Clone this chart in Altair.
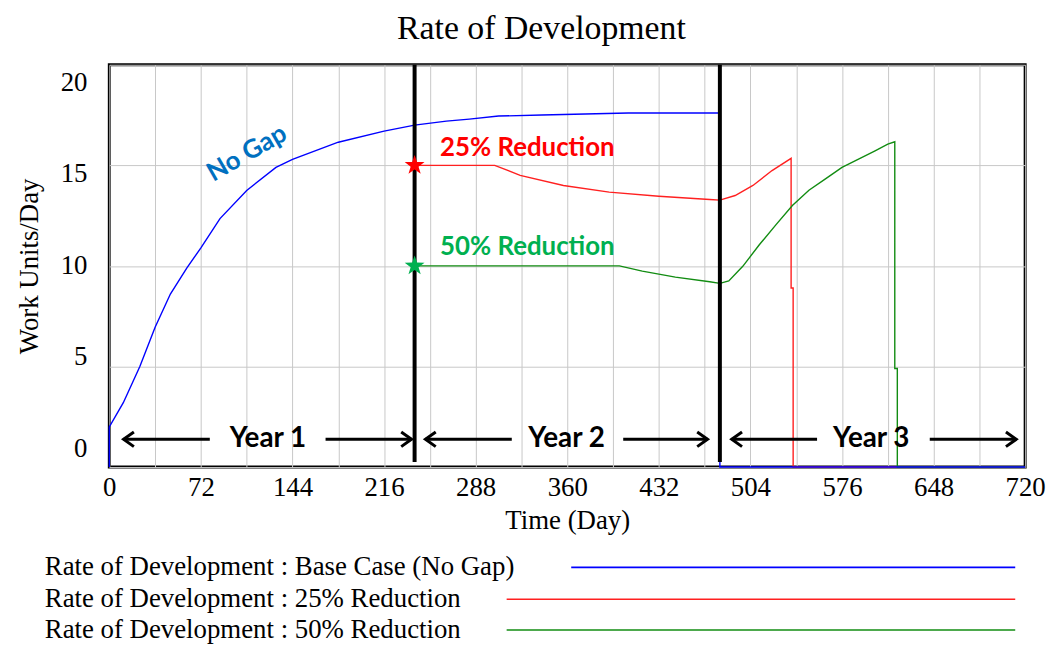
import altair as alt
import pandas as pd

SERIF = "Liberation Serif"
SANS = "Lato"

# ---- data ----
base_days = [0, 0, 11, 24, 36, 48, 61, 72, 87, 108, 131, 144, 180, 216, 240, 265, 283, 306, 340, 408, 480, 480, 720]
base_vals = [0, 2.0, 3.2, 5.0, 6.95, 8.6, 9.9, 10.9, 12.35, 13.75, 14.9, 15.3, 16.15, 16.7, 17.0, 17.2, 17.3, 17.45, 17.5, 17.6, 17.6, 0, 0]

r25_days = [240, 303, 323, 357, 393, 432, 472, 480, 492, 506, 521, 536, 536, 537.6, 537.6, 720]
r25_vals = [15, 15, 14.5, 14.0, 13.67, 13.46, 13.3, 13.27, 13.5, 14.0, 14.74, 15.35, 8.9, 8.9, 0, 0]

r50_days = [240, 401, 419, 445, 472, 480, 487, 498, 511, 524, 537, 550, 563, 576, 589, 602, 612, 617.5, 617.5, 619.5, 619.5, 720]
r50_vals = [10, 10, 9.74, 9.44, 9.21, 9.13, 9.25, 9.98, 11.05, 12.04, 13.0, 13.76, 14.33, 14.9, 15.31, 15.72, 16.05, 16.17, 4.9, 4.9, 0, 0]

star_days = [240, 240]
star_vals = [15, 10]
star_colors = ["#ff0000", "#00b050"]

year_bounds = [240, 480]
year_names = ["Year 1", "Year 2", "Year 3"]
year_centers = [124.7, 359.5, 599]
arrow_level = 1.38
arrow_from = [79, 170, 316.4, 404, 556.4, 645]
arrow_to = [11.2, 237.6, 248.5, 470.3, 489.3, 713]

x_ticks = list(range(0, 721, 36))
y_ticks = [0, 5, 10, 15, 20]

legend_labels = [
    "Rate of Development : Base Case (No Gap)",
    "Rate of Development : 25% Reduction",
    "Rate of Development : 50% Reduction",
]
colors = ["#0000ff", "#ff2020", "#128c12"]

STAR = ("M0,-1L0.235,-0.324L0.951,-0.309L0.380,0.124L0.588,0.809L0,0.4"
        "L-0.588,0.809L-0.380,0.124L-0.951,-0.309L-0.235,-0.324Z")


def series_df(days, vals):
    return pd.DataFrame({"day": days, "value": vals, "i": list(range(len(days)))})


x_scale = alt.Scale(domain=[0, 720], nice=False, zero=False)
y_scale = alt.Scale(domain=[0, 20], nice=False)

x_axis = alt.Axis(
    values=x_ticks, format="d",
    labelExpr="datum.value % 72 == 0 ? datum.label : ''",
    labelFlush=False, labelOverlap=False, labelBound=False,
    grid=True, gridColor="#c8c8c8", gridWidth=1, tickSize=0, domain=False,
    labelFont=SERIF, labelFontSize=27, labelColor="black", labelPadding=8,
    title="Time (Day)", titleFont=SERIF, titleFontSize=27, titleFontWeight="normal",
    titleColor="black", titlePadding=7,
)
y_axis = alt.Axis(
    values=y_ticks, labels=False,
    grid=True, gridColor="#c8c8c8", gridWidth=1, tickSize=0, domain=False,
    title="Work Units/Day", titleFont=SERIF, titleFontSize=27, titleFontWeight="normal",
    titleColor="black", titlePadding=66,
)

X = lambda: alt.X("day:Q", scale=x_scale, axis=x_axis)
Y = lambda: alt.Y("value:Q", scale=y_scale, axis=y_axis)

# y tick labels, spread slightly inward as in the reference
ylab = alt.Chart(pd.DataFrame({"v": y_ticks})).transform_calculate(
    value="datum.v + (10 - datum.v) * 0.0914"
).mark_text(font=SERIF, fontSize=27, color="black", align="right", baseline="middle", dx=-22).encode(
    x=alt.value(0), y=Y(), text=alt.Text("v:Q", format="d")
)


def line_layer(days, vals, color):
    return alt.Chart(series_df(days, vals)).mark_line(color=color, strokeWidth=1.4).encode(
        x=X(), y=Y(), order="i:Q"
    )

red_line = line_layer(r25_days, r25_vals, colors[1])
green_line = line_layer(r50_days, r50_vals, colors[2])
blue_line = line_layer(base_days, base_vals, colors[0])

bounds = alt.Chart(pd.DataFrame({"day": year_bounds})).mark_rule(color="black", strokeWidth=4).encode(
    x=X(), y=alt.value(0), y2=alt.value(400)
)

stars = alt.Chart(pd.DataFrame({"day": star_days, "value": star_vals, "c": star_colors})).mark_point(
    shape=STAR, filled=True, size=440, opacity=1
).encode(x=X(), y=Y(), color=alt.Color("c:N", scale=None))

arrow_df = pd.DataFrame({"start": arrow_from, "day": arrow_to, "value": [arrow_level] * len(arrow_to)})
shafts = alt.Chart(arrow_df).mark_rule(color="black", strokeWidth=3).encode(
    x=alt.X("start:Q", scale=x_scale, axis=x_axis), x2="day:Q", y=Y()
)
right_heads = alt.Chart(arrow_df[arrow_df["day"] > arrow_df["start"]]).mark_point(
    shape="M-1.2,-0.85L0,0L-1.2,0.85", filled=False, size=300, strokeWidth=3,
    color="black", opacity=1
).encode(x=X(), y=Y())
left_heads = alt.Chart(arrow_df[arrow_df["day"] < arrow_df["start"]]).mark_point(
    shape="M1.2,-0.85L0,0L1.2,0.85", filled=False, size=300, strokeWidth=3,
    color="black", opacity=1
).encode(x=X(), y=Y())

year_text = alt.Chart(pd.DataFrame({"day": year_centers, "value": [arrow_level] * 3, "t": year_names})).mark_text(
    font=SANS, fontSize=28, fontWeight="bold", color="black", baseline="middle"
).encode(x=X(), y=Y(), text="t:N")

ann_df = pd.DataFrame({
    "day": [108.2, 260, 260],
    "value": [15.6, 15.84, 10.92],
    "t": ["No Gap", "25% Reduction", "50% Reduction"],
})
no_gap = alt.Chart(ann_df.iloc[[0]]).mark_text(
    font=SANS, fontSize=26, fontWeight="bold", color="#0070c0", angle=330, baseline="middle"
).encode(x=X(), y=Y(), text="t:N")
red_txt = alt.Chart(ann_df.iloc[[1]]).mark_text(
    font=SANS, fontSize=26, fontWeight="bold", color="#ff0000", align="left", baseline="middle"
).encode(x=X(), y=Y(), text="t:N")
green_txt = alt.Chart(ann_df.iloc[[2]]).mark_text(
    font=SANS, fontSize=26, fontWeight="bold", color="#00b050", align="left", baseline="middle"
).encode(x=X(), y=Y(), text="t:N")

title = alt.Chart(pd.DataFrame({"t": ["Rate of Development"]})).mark_text(
    font=SERIF, fontSize=34, color="black", baseline="middle"
).encode(x=alt.value(435), y=alt.value(-36), text="t:N")

legend_layers = []
legend_y = [506, 538, 569]
legend_x1 = [465, 400, 400]
for lab, col, ly, lx in zip(legend_labels, colors, legend_y, legend_x1):
    legend_layers.append(
        alt.Chart(pd.DataFrame({"t": [lab]})).mark_text(
            font=SERIF, fontSize=27, color="black", align="left", baseline="middle"
        ).encode(x=alt.value(-65), y=alt.value(ly), text="t:N")
    )
    legend_layers.append(
        alt.Chart(pd.DataFrame({"t": [lab]})).mark_rule(color=col, strokeWidth=1.6).encode(
            x=alt.value(lx), x2=alt.value(912), y=alt.value(ly)
        )
    )

chart = alt.layer(
    red_line, ylab, green_line, blue_line, bounds, stars, shafts, right_heads, left_heads,
    year_text, no_gap, red_txt, green_txt, title, *legend_layers
).properties(
    width=922, height=405,
    padding={"left": 102, "top": 55, "right": 24, "bottom": 178},
    autosize=alt.AutoSizeParams(type="none"),
    background="white",
).configure_view(stroke="black", strokeWidth=3)

chart.save("out.html", embed_options={"renderer": "svg", "actions": False})
